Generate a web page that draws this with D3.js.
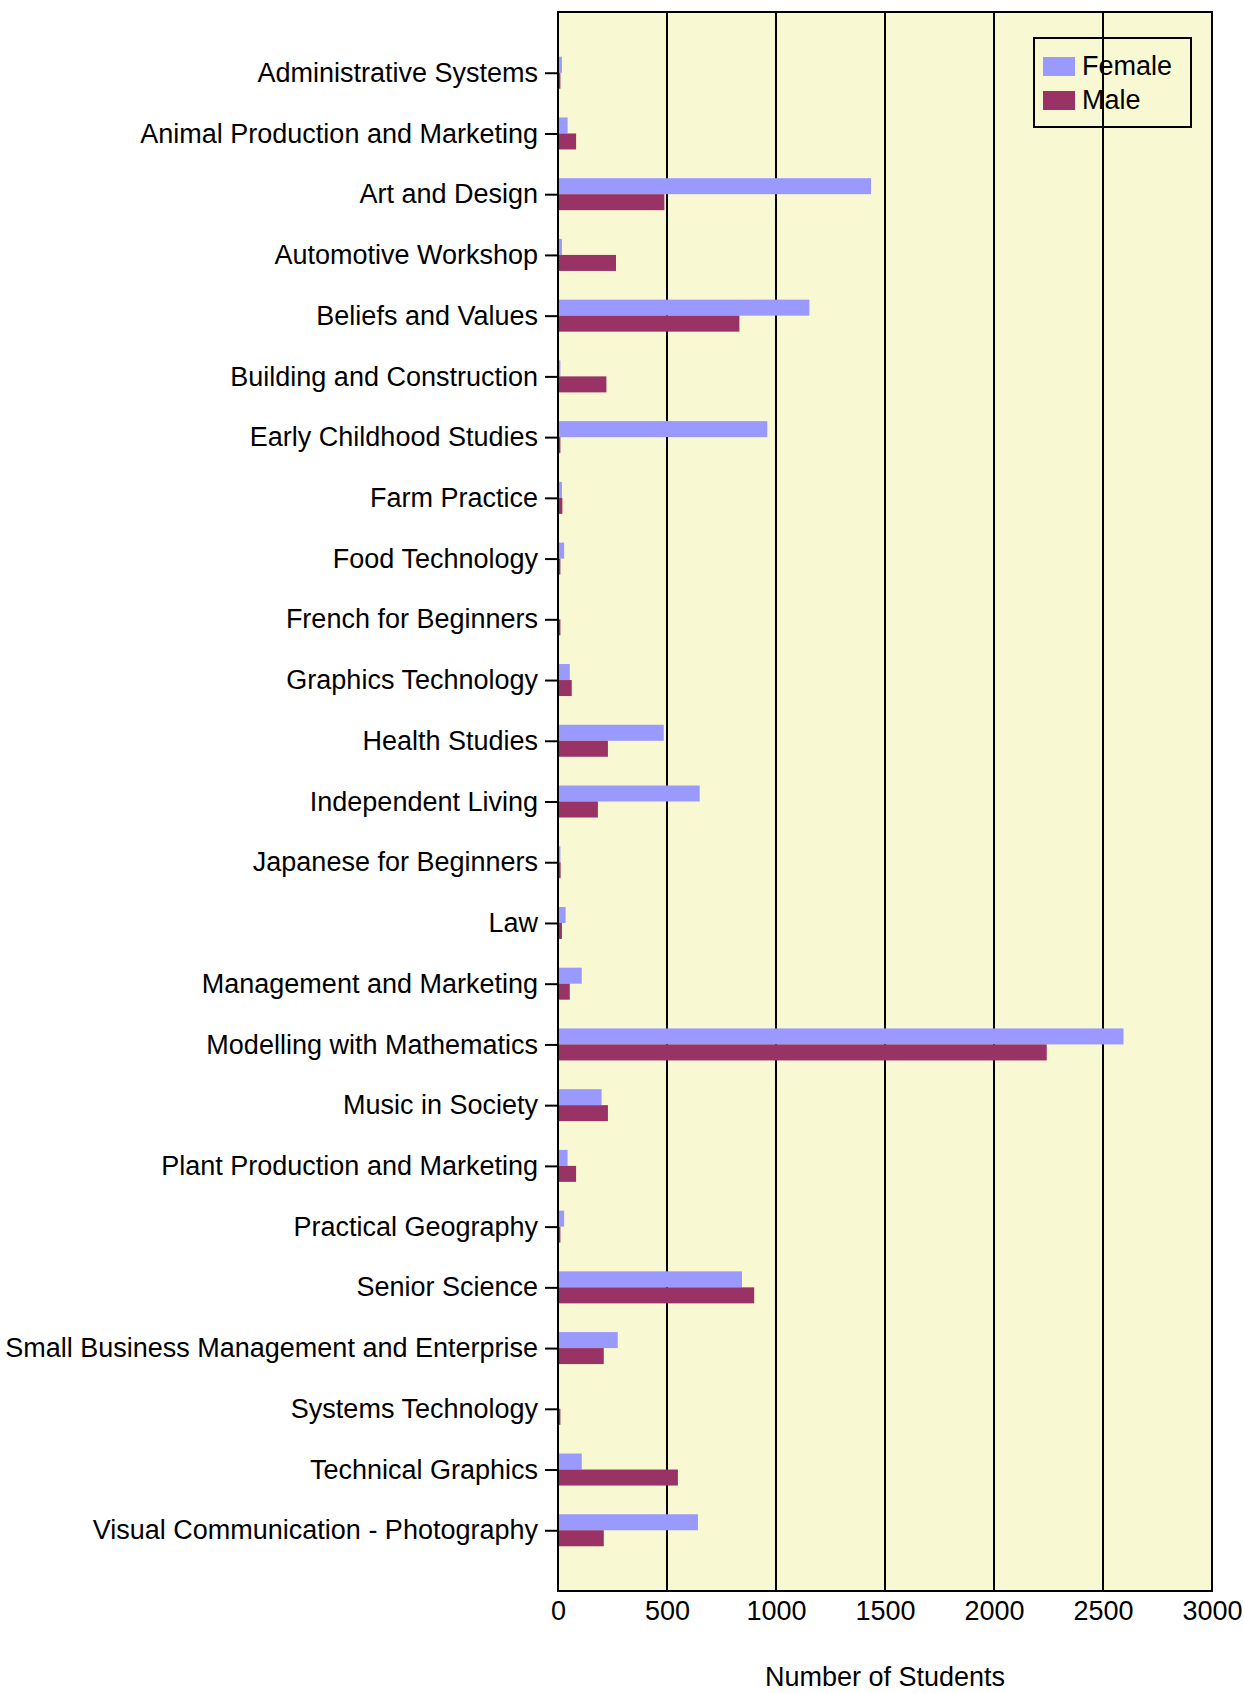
<!DOCTYPE html>
<html>
<head>
<meta charset="utf-8">
<script src="https://cdn.jsdelivr.net/npm/d3@7"></script>
<style>
  body { margin: 0; background: #fff; }
  text { font-family: "Liberation Sans", Arial, sans-serif; }
</style>
</head>
<body>
<div id="chart"></div>
<script>
var subjects = [
    'Administrative Systems', 'Animal Production and Marketing', 'Art and Design',
    'Automotive Workshop', 'Beliefs and Values', 'Building and Construction',
    'Early Childhood Studies', 'Farm Practice', 'Food Technology',
    'French for Beginners', 'Graphics Technology', 'Health Studies',
    'Independent Living', 'Japanese for Beginners', 'Law',
    'Management and Marketing', 'Modelling with Mathematics', 'Music in Society',
    'Plant Production and Marketing', 'Practical Geography', 'Senior Science',
    'Small Business Management and Enterprise', 'Systems Technology',
    'Technical Graphics', 'Visual Communication - Photography'
];
var female = [18, 44, 1436, 18, 1153, 11, 960, 18, 28, 2, 54, 485, 650, 11, 35,
              109, 2594, 200, 44, 28, 844, 274, 2, 109, 642];
var male   = [11, 83, 488, 266, 832, 222, 11, 20, 11, 11, 63, 229, 183, 12, 18,
              54, 2242, 229, 83, 11, 900, 210, 11, 550, 210];
var x_ticks = [0, 500, 1000, 1500, 2000, 2500, 3000];
var series = ['Female', 'Male'];
var colors = ['#9999ff', '#993366'];

var chart_width  = 1244;
var chart_height = 1693;
var plot_left = 558, plot_right = 1212, plot_top = 12, plot_bottom = 1591;
var bar_h = 16;
var font_size = 27;

var svg = d3.select('#chart')
    .append('svg')
    .attr('width', chart_width)
    .attr('height', chart_height);

var x_scale = d3.scaleLinear()
    .domain([0, 3000])
    .range([plot_left, plot_right]);

var y_scale = d3.scalePoint()
    .domain(subjects)
    .range([plot_top, plot_bottom])
    .padding(1);

// plot background
svg.append('rect')
    .attr('x', plot_left)
    .attr('y', plot_top)
    .attr('width', plot_right - plot_left)
    .attr('height', plot_bottom - plot_top)
    .attr('fill', '#f8f8d3');

// gridlines
svg.selectAll('.grid')
    .data(x_ticks.slice(1))
    .enter()
    .append('line')
    .attr('x1', function(d){ return x_scale(d); })
    .attr('x2', function(d){ return x_scale(d); })
    .attr('y1', plot_top)
    .attr('y2', plot_bottom)
    .attr('stroke', '#000')
    .attr('stroke-width', 2);

// bars
var rows = subjects.map(function(s, i){
    return {name: s, f: female[i], m: male[i]};
});

svg.selectAll('.bar-f')
    .data(rows)
    .enter()
    .append('rect')
    .attr('x', x_scale(0))
    .attr('y', function(d){ return y_scale(d.name) - bar_h; })
    .attr('width', function(d){ return x_scale(d.f) - x_scale(0); })
    .attr('height', bar_h)
    .attr('fill', colors[0]);

svg.selectAll('.bar-m')
    .data(rows)
    .enter()
    .append('rect')
    .attr('x', x_scale(0))
    .attr('y', function(d){ return y_scale(d.name); })
    .attr('width', function(d){ return x_scale(d.m) - x_scale(0); })
    .attr('height', bar_h)
    .attr('fill', colors[1]);

// plot border
svg.append('rect')
    .attr('x', plot_left)
    .attr('y', plot_top)
    .attr('width', plot_right - plot_left)
    .attr('height', plot_bottom - plot_top)
    .attr('fill', 'none')
    .attr('stroke', '#000')
    .attr('stroke-width', 2);

// y axis
var y_axis = svg.append('g')
    .attr('transform', 'translate(' + plot_left + ',0)')
    .call(d3.axisLeft(y_scale).tickSize(13).tickPadding(7));
y_axis.select('.domain').remove();
y_axis.selectAll('line').attr('stroke-width', 2);
y_axis.selectAll('text')
    .attr('font-size', font_size)
    .attr('fill', '#000')
    .style('font-family', '"Liberation Sans", Arial, sans-serif');

// x axis
var x_axis = svg.append('g')
    .attr('transform', 'translate(0,' + plot_bottom + ')')
    .call(d3.axisBottom(x_scale).tickValues(x_ticks).tickSize(0).tickPadding(10).tickFormat(d3.format('d')));
x_axis.select('.domain').remove();
x_axis.selectAll('text')
    .attr('font-size', font_size)
    .attr('fill', '#000')
    .style('font-family', '"Liberation Sans", Arial, sans-serif');

// axis title
svg.append('text')
    .text('Number of Students')
    .attr('x', (plot_left + plot_right) / 2)
    .attr('y', 1686)
    .attr('text-anchor', 'middle')
    .attr('font-size', font_size)
    .attr('fill', '#000');

// legend
var legend = svg.append('g');
legend.append('rect')
    .attr('x', 1034)
    .attr('y', 38)
    .attr('width', 157)
    .attr('height', 89)
    .attr('fill', 'none')
    .attr('stroke', '#000')
    .attr('stroke-width', 2);

legend.selectAll('.key')
    .data(series)
    .enter()
    .append('rect')
    .attr('x', 1043)
    .attr('y', function(d, i){ return 57 + i * 34; })
    .attr('width', 32)
    .attr('height', 19)
    .attr('fill', function(d, i){ return colors[i]; });

legend.selectAll('.label')
    .data(series)
    .enter()
    .append('text')
    .text(function(d){ return d; })
    .attr('x', 1082)
    .attr('y', function(d, i){ return 66 + i * 34; })
    .attr('dy', '0.35em')
    .attr('font-size', font_size)
    .attr('fill', '#000');
</script>
</body>
</html>
